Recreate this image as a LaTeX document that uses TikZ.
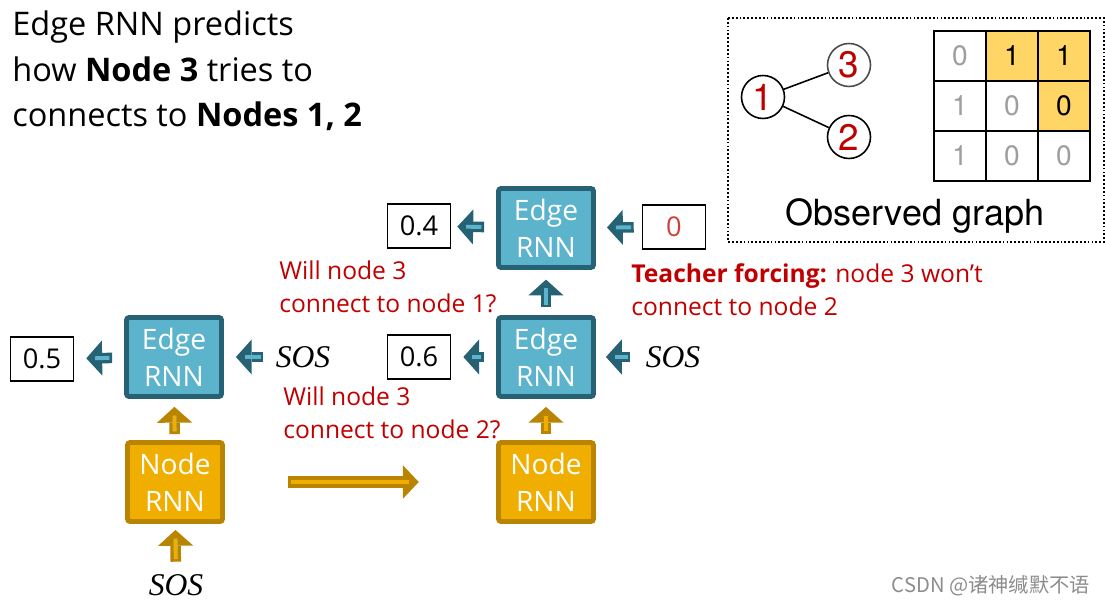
\documentclass[tikz,border=0pt]{standalone}
\usepackage{fontspec}
\setmainfont{Open Sans}
\newfontfamily\helv{TeX Gyre Heros}
\newfontfamily\serifit{Liberation Serif}
\newfontfamily\cjk{Noto Sans CJK SC}
\usetikzlibrary{
    arrows.meta,
    positioning,
    calc
}
\definecolor{edgefill}{RGB}{91,179,204}
\definecolor{edgeline}{RGB}{38,98,115}
\definecolor{nodefill}{RGB}{240,174,0}
\definecolor{nodeline}{RGB}{185,133,0}
\definecolor{darkred}{RGB}{192,0,0}
\definecolor{softred}{RGB}{205,65,55}
\definecolor{cellyellow}{RGB}{255,214,102}

\begin{document}
\begin{tikzpicture}[x=0.02cm, y=-0.02cm,
        edgebox/.style={rectangle, rounded corners=1.5pt, draw=edgeline, fill=edgefill, line width=2.8pt, minimum width=1.9cm, minimum height=1.58cm, inner sep=0pt, text=white, align=center, font=\fontsize{16}{21}\selectfont},
        nodebox/.style={edgebox, draw=nodeline, fill=nodefill},
        valbox/.style={rectangle, draw, line width=1pt, minimum width=1.26cm, minimum height=0.88cm, inner sep=0pt, font=\fontsize{15.5}{18}\selectfont},
        sos/.style={inner sep=0pt, font=\serifit\itshape\fontsize{18}{20}\selectfont},
        note/.style={inner sep=0pt, align=left, text=darkred, font=\fontsize{14}{19}\selectfont},
        gnode/.style={circle, draw, line width=0.9pt, minimum size=0.86cm, inner sep=0pt, text=darkred, font=\helv\fontsize{21}{21}\selectfont},
        cell/.style={rectangle, draw, line width=1.2pt, minimum width=1.04cm, minimum height=1cm, inner sep=0pt, text=black!38, font=\helv\fontsize{16}{16}\selectfont},
        hicell/.style={cell, fill=cellyellow, text=black},
        tarrow/.style 2 args={draw=edgeline, line width=6pt, -{Triangle[width=20pt,length=9pt,line width=0pt]}, shorten <=#1, shorten >=#2,
            postaction={draw=edgefill, line width=2.2pt, -, shorten <=#1+1.5pt, shorten >=#2+5pt}},
        garrow/.style 2 args={tarrow={#1}{#2}, draw=nodeline, postaction={draw=nodefill, line width=2.2pt, -, shorten <=#1+1.5pt, shorten >=#2+5pt}},
        bigarrow/.style 2 args={draw=nodeline, line width=7pt, -{Triangle[width=19pt,length=9pt,line width=0pt]}, shorten <=#1, shorten >=#2,
            postaction={draw=nodefill, line width=2.8pt, -, shorten <=#1+1.5pt, shorten >=#2+5.5pt}}
    ]
        \useasboundingbox (0,0) rectangle (1105,604);

        % Title
        \node[anchor=west, inner sep=0pt, align=left, font=\fontsize{18.5}{26}\selectfont] (title) at (12,71)
            {Edge RNN predicts\\how \textbf{Node 3} tries to\\connects to \textbf{Nodes 1, 2}};

        % Observed graph
        \draw[line width=1pt, dash pattern=on 1pt off 1.2pt] (728,18) rectangle (1104,242);
        \node[gnode] (g1) at (763,97) {1};
        \node[gnode, draw=black!70] (g3) at (849,65) {3};
        \node[gnode] (g2) at (849,137) {2};
        \draw[line width=0.9pt] (g1) -- (g3);
        \draw[line width=0.9pt] (g1) -- (g2);
        \foreach \r/\c/\v/\s in {1/1/0/cell, 1/2/1/hicell, 1/3/1/hicell,
                                 2/1/1/cell, 2/2/0/cell, 2/3/0/hicell,
                                 3/1/1/cell, 3/2/0/cell, 3/3/0/cell}
            \node[\s] (c\r\c) at ({934+52*\c-26},{31+50*\r-25}) {\v};
        \node[inner sep=0pt, font=\helv\fontsize{20.5}{22}\selectfont] (obs) at (915,216) {Observed graph};

        % Step 1
        \node[edgebox] (e1) at (174,357) {Edge\\RNN};
        \node[nodebox] (n1) at (175,482) {Node\\RNN};
        \node[valbox] (v1) at (42,359) {0.5};
        \node[sos] (s1) at (303,357) {SOS};
        \node[sos] (s0) at (176,585) {SOS};

        % Step 2
        \node[edgebox] (e2) at (546,357) {Edge\\RNN};
        \node[nodebox] (n2) at (546,482) {Node\\RNN};
        \node[valbox] (v2) at (419,357) {0.6};
        \node[sos] (s2) at (673,357) {SOS};
        \node[edgebox] (e3) at (546,228) {Edge\\RNN};
        \node[valbox] (v3) at (419,226) {0.4};
        \node[valbox, text=softred] (t3) at (674,227) {0};

        % Notes
        \node[note, anchor=west] (q1) at (279,287) {Will node 3\\connect to node 1?};
        \node[note, anchor=west] (q2) at (283,413) {Will node 3\\connect to node 2?};
        \node[note, anchor=west] (tf) at (631,290) {\textbf{Teacher forcing:} node 3 won’t\\connect to node 2};

        \draw[tarrow={6.8pt}{6.8pt}] (e1) -- (v1);
        \draw[tarrow={6.8pt}{6.8pt}] (s1) -- (e1);
        \draw[garrow={3.4pt}{4.5pt}] (n1) -- (e1);
        \draw[garrow={7pt}{3.4pt}] (s0) -- (n1);
        \draw[tarrow={6.8pt}{6.8pt}] (e2) -- (v2);
        \draw[tarrow={8.5pt}{5.7pt}] (s2) -- (e2);
        \draw[garrow={3.4pt}{4.5pt}] (n2) -- (e2);
        \draw[tarrow={4.5pt}{5.5pt}] (e2) -- (e3);
        \draw[tarrow={6.8pt}{3.4pt}] (e3) -- (v3);
        \draw[tarrow={4.5pt}{6.3pt}] (t3) -- (e3);
        \draw[bigarrow={36pt}{44pt}] (n1) -- (n2);

        % Watermark
        \node[anchor=east, inner sep=0pt, text=black!45, font=\cjk\fontsize{11.5}{13}\selectfont] (wm) at (1090,586) {CSDN @诸神缄默不语};
    \end{tikzpicture}
\end{document}
